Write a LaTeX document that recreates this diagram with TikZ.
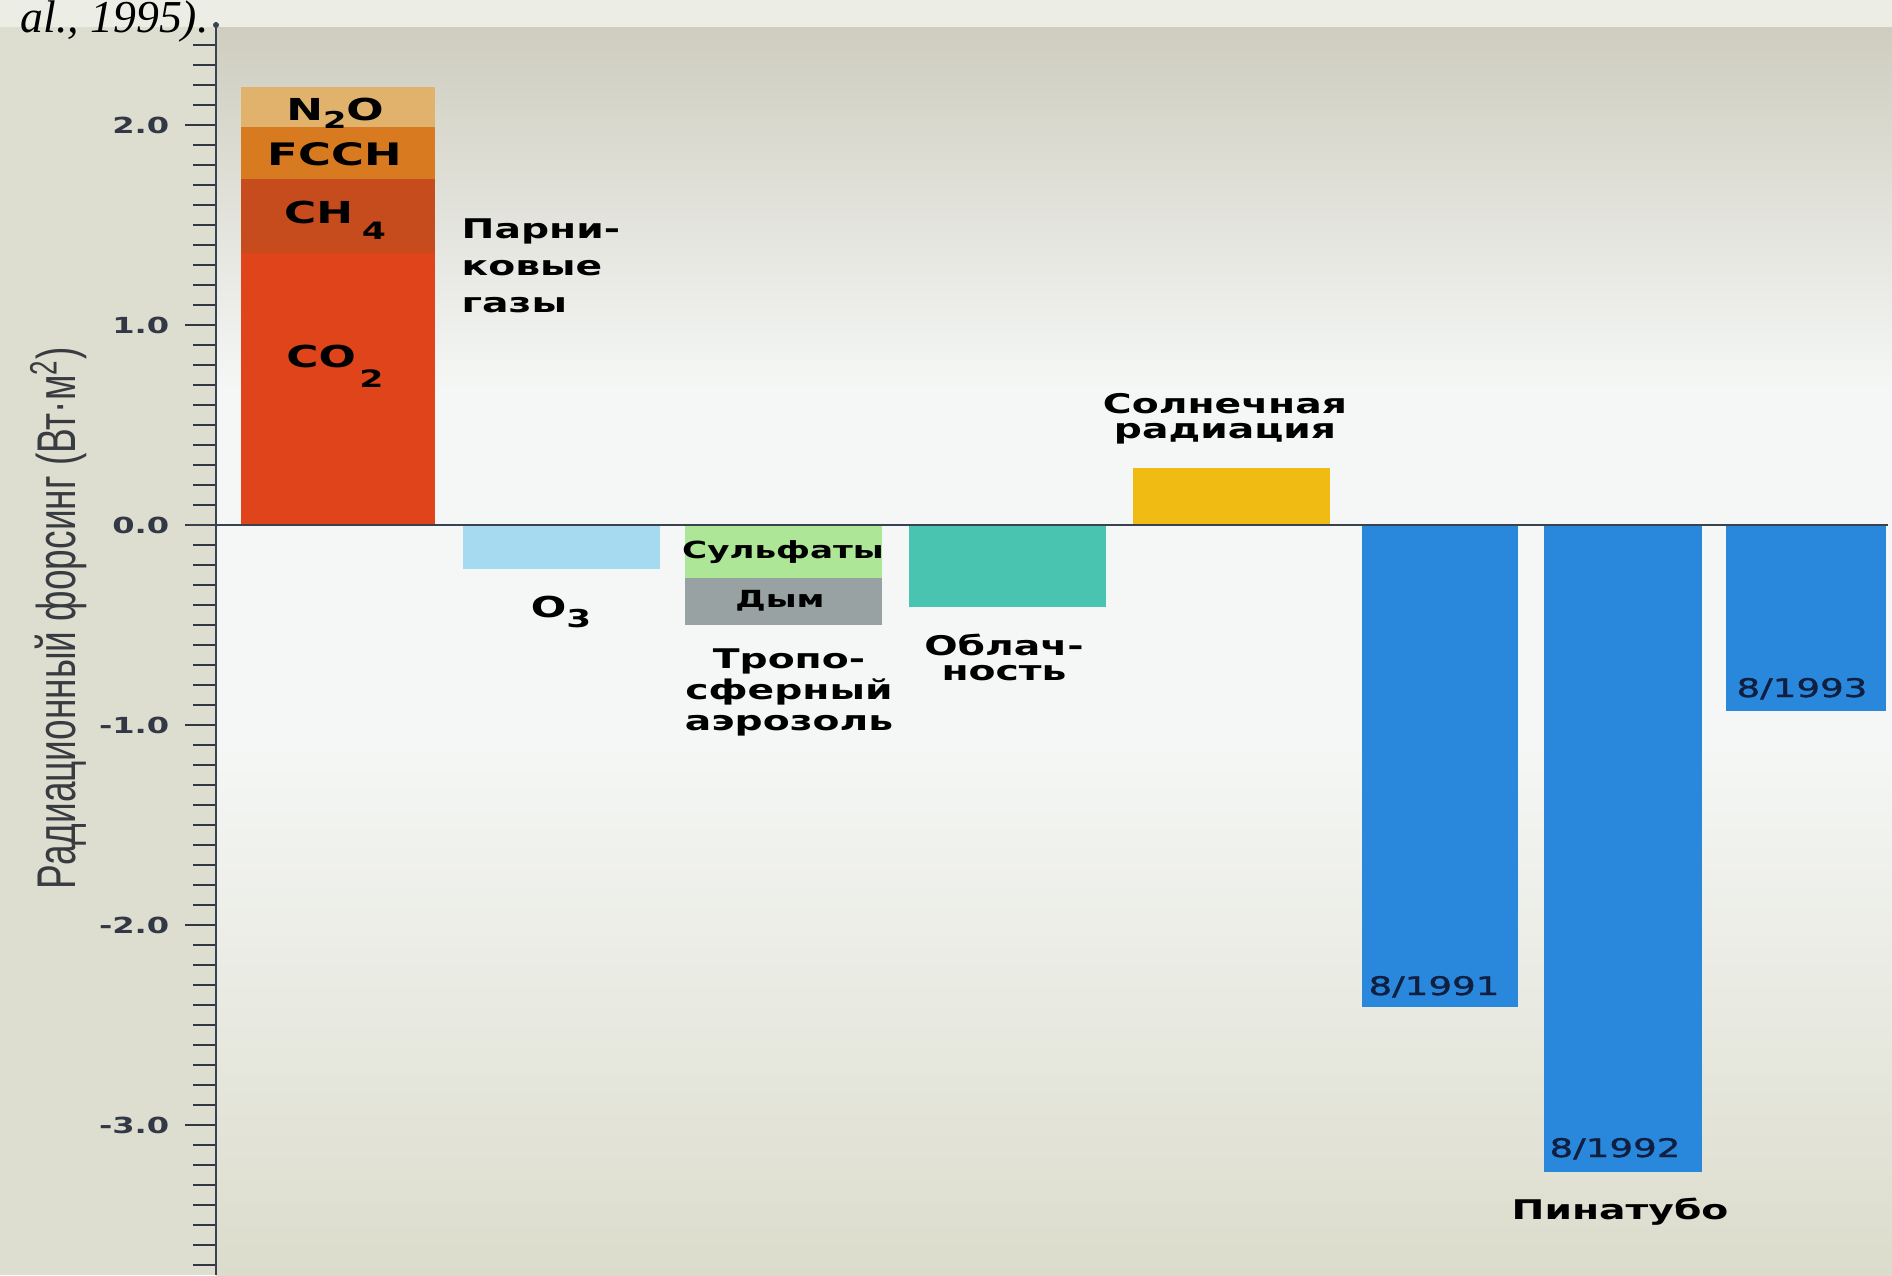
\documentclass[tikz,border=0pt]{standalone}
\usepackage{fontspec}
\setmainfont{DejaVu Sans}
\newfontfamily\lb[FakeStretch=1.45]{DejaVu Sans}
\newfontfamily\lbsemi[FakeStretch=1.45,FakeBold=1.3]{DejaVu Sans}
\newfontfamily\yl[FakeStretch=0.68]{Liberation Sans}
\newfontfamily\ser{Liberation Serif}
\definecolor{cNtwo}{RGB}{224,178,108}
\definecolor{cFCCH}{RGB}{216,122,32}
\definecolor{cCHf}{RGB}{198,76,30}
\definecolor{cCOt}{RGB}{224,68,26}
\definecolor{cOz}{RGB}{166,218,240}
\definecolor{cSulf}{RGB}{172,230,150}
\definecolor{cSmoke}{RGB}{152,162,162}
\definecolor{cCloud}{RGB}{72,196,176}
\definecolor{cSolar}{RGB}{240,188,20}
\definecolor{cPin}{RGB}{42,136,220}
\definecolor{cAxis}{RGB}{58,66,82}
\definecolor{cTick}{RGB}{50,56,70}
\definecolor{cYear}{RGB}{16,30,64}
\definecolor{bgLeft}{RGB}{222,222,208}
\definecolor{bgTop}{RGB}{236,238,230}
\definecolor{plotTop}{RGB}{206,205,191}
\definecolor{plotMid}{RGB}{245,247,246}
\definecolor{plotBot}{RGB}{220,220,204}
\definecolor{cYlab}{RGB}{56,60,64}
\begin{document}
\begin{tikzpicture}[x=0.01cm,y=-0.01cm,
  tickline/.style={draw=cTick,line width=0.7pt},
  ticklab/.style={anchor=east,inner sep=0pt,text=cTick,font=\lb\bfseries\fontsize{6.3}{7}\selectfont},
  chem/.style={anchor=base,inner sep=0pt,font=\lb\bfseries\fontsize{8.6}{9}\selectfont},
  sidelab/.style={inner sep=0pt,font=\lb\bfseries\fontsize{7.7}{#1}\selectfont},
  sidelab/.default=9,
  small/.style={anchor=base,inner sep=0pt,font=\lb\bfseries\fontsize{6.7}{7}\selectfont},
  year/.style={anchor=base,inner sep=0pt,text=cYear,font=\lbsemi\fontsize{7.3}{8}\selectfont}]
\useasboundingbox (0,0) rectangle (1892,1275);
% background
\fill[bgTop] (0,0) rectangle (1892,1275);
\fill[bgLeft] (0,27) rectangle (216,1275);
\shade[top color=plotTop,bottom color=plotMid] (216,27) rectangle (1892,390);
\fill[plotMid] (216,390) rectangle (1892,740);
\shade[top color=plotMid,bottom color=plotBot] (216,740) rectangle (1892,1275);
% bars
\fill[cNtwo] (241,87) rectangle (435,127);
\fill[cFCCH] (241,127) rectangle (435,179);
\fill[cCHf] (241,179) rectangle (435,253);
\fill[cCOt] (241,253) rectangle (435,525);
\fill[cOz] (463,525) rectangle (660,569);
\fill[cSulf] (685,525) rectangle (882,578);
\fill[cSmoke] (685,578) rectangle (882,625);
\fill[cCloud] (909,525) rectangle (1106,607);
\fill[cSolar] (1133,468) rectangle (1330,525);
\fill[cPin] (1362,525) rectangle (1518,1007);
\fill[cPin] (1544,525) rectangle (1702,1172);
\fill[cPin] (1726,525) rectangle (1886,711);
% axis, ticks, zero line
\foreach \i in {-37,...,24} \draw[tickline] (193,{525-20*\i}) -- (216,{525-20*\i});
\foreach \v in {-3,...,2} \draw[tickline] (185,{525-200*\v}) -- (216,{525-200*\v});
\draw[cAxis,line width=0.85pt] (216,25) -- (216,1275);
\fill[cAxis] (216,25) circle (3);
\draw[cAxis,line width=0.7pt] (187,525) -- (1888,525);
\foreach \v/\t/\n in {2/2.0/ta,1/1.0/tb,0/0.0/tc,-1/-1.0/td,-2/-2.0/te,-3/-3.0/tf}
  \node[ticklab] (\n) at (170,{525-200*\v}) {\t};
% axis title
\node[rotate=90,anchor=base,inner sep=0pt,text=cYlab,font=\yl\fontsize{15.5}{16}\selectfont] (ylab) at (75,618) {Радиационный форсинг (Вт·м\textsuperscript{2})};
% bar labels
\node[chem] (ntwoo) at (335,120) {N\raisebox{-2.3pt}{\fontsize{6.6}{7}\selectfont 2}O};
\node[chem,font=\lb\bfseries\fontsize{8.8}{9}\selectfont] (fcch) at (335,165) {FCCH};
\node[chem] (chf) at (335,223) {CH\hspace{2.5pt}\raisebox{-4.8pt}{\fontsize{6.8}{7}\selectfont 4}};
\node[chem] (cot) at (335,367) {CO\hspace{1pt}\raisebox{-5.7pt}{\fontsize{6.8}{7}\selectfont 2}};
\node[sidelab=10.5,anchor=north west,align=left] (ghg) at (461,218) {Парни-\\ковые\\газы};
\node[chem,font=\lb\bfseries\fontsize{8.2}{9}\selectfont] (ozone) at (561,617) {O\raisebox{-3pt}{\fontsize{7}{8}\selectfont 3}};
\node[small] (sulf) at (783,558) {Сульфаты};
\node[small] (smoke) at (780,607) {Дым};
\node[sidelab=8.8,anchor=north,align=center] (aer) at (789,648) {Тропо-\\сферный\\аэрозоль};
\node[sidelab=7.3,anchor=north,align=center] (cloud) at (1004,633) {Облач-\\ность};
\node[sidelab=7.1,anchor=north,align=center] (solar) at (1225,393) {Солнечная\\радиация};
\node[year] (yone) at (1434,995) {8/1991};
\node[year] (ytwo) at (1615,1157) {8/1992};
\node[year] (ythree) at (1802,697) {8/1993};
\node[anchor=base,inner sep=0pt,font=\lb\bfseries\fontsize{7.7}{8}\selectfont] (pin) at (1620,1219) {Пинатубо};
% citation fragment
\node[anchor=base west,inner sep=0pt,font=\ser\itshape\fontsize{13}{14}\selectfont] (cite) at (20,32) {al., 1995).};
\end{tikzpicture}
\end{document}
